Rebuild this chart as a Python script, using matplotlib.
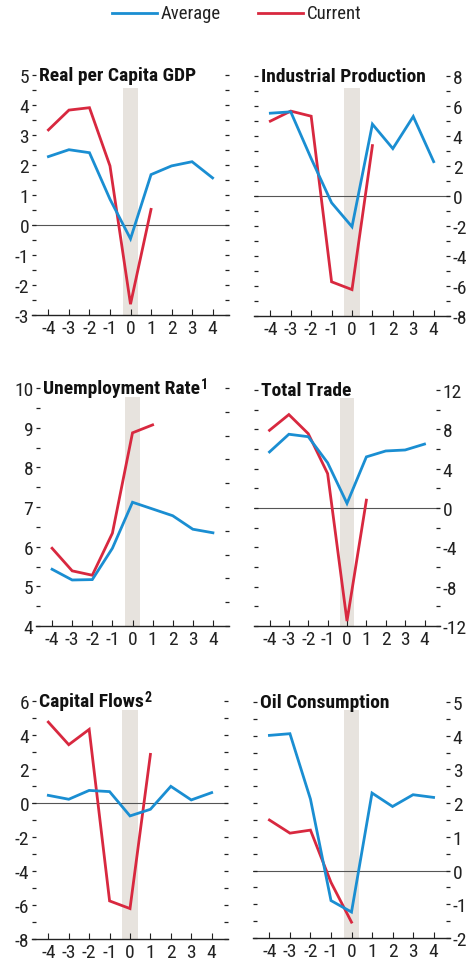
import numpy as np
import matplotlib
matplotlib.use("Agg")
import matplotlib.pyplot as plt
from matplotlib import font_manager as fm

installed = {f.name for f in fm.fontManager.ttflist}
wanted = ['Roboto Condensed', 'Archivo Narrow', 'PT Sans Narrow', 'Liberation Sans Narrow', 'DejaVu Sans']
fams = [f for f in wanted if f in installed] + ['DejaVu Sans']
plt.rcParams['font.family'] = fams
plt.rcParams['axes.unicode_minus'] = False

BLUE = '#1a8ed2'
RED = '#d8283f'
BAND = '#e7e3de'

years = [-4, -3, -2, -1, 0, 1, 2, 3, 4]
years_cur = [-4, -3, -2, -1, 0, 1]

# Real per Capita GDP
gdp_avg = [2.28, 2.51, 2.41, 0.86, -0.46, 1.68, 1.97, 2.11, 1.57]
gdp_cur = [3.17, 3.83, 3.91, 1.97, -2.64, 0.52]

# Industrial Production
ip_avg = [5.52, 5.61, 2.5, -0.45, -2.05, 4.79, 3.16, 5.3, 2.29]
ip_cur = [4.99, 5.66, 5.32, -5.72, -6.24, 3.36]

# Unemployment Rate
unemp_avg = [5.43, 5.16, 5.17, 5.96, 7.12, 6.95, 6.78, 6.44, 6.35]
unemp_cur = [5.96, 5.39, 5.28, 6.34, 8.87, 9.07]

# Total Trade
trade_avg = [5.7, 7.5, 7.25, 4.6, 0.47, 5.2, 5.8, 5.9, 6.5]
trade_cur = [7.9, 9.5, 7.56, 3.5, -11.5, 0.8]

# Capital Flows
cap_avg = [0.45, 0.22, 0.74, 0.67, -0.76, -0.37, 0.98, 0.18, 0.61]
cap_cur = [4.76, 3.43, 4.33, -5.76, -6.21, 2.86]

# Oil Consumption (current series stops at year 0)
oil_avg = [4.01, 4.06, 2.12, -0.89, -1.23, 2.3, 1.9, 2.25, 2.17]
oil_cur = [1.5, 1.11, 1.2, -0.35, -1.53]

W, H = 471, 962
fig = plt.figure(figsize=(W / 100, H / 100), dpi=100)
renderer = fig.canvas.get_renderer()


def make_ax(left, right, top, bottom):
    return fig.add_axes([left / W, 1 - bottom / H, (right - left) / W, (bottom - top) / H])


def panel(box, title, avg, cur, ylim, ticks, labels, side, band_top=0.955,
          right_ticks=None, note=None):
    ax = make_ax(*box)
    ax.set_xlim(-4.8, 4.8)
    ax.set_ylim(*ylim)
    ax.axvspan(-0.37, 0.37, ymin=0, ymax=band_top, color=BAND, lw=0, zorder=0)
    ax.axhline(0, color='#555555', lw=0.8, zorder=1)
    ax.plot(years, avg, color=BLUE, lw=2, zorder=3, solid_joinstyle='miter')
    ax.plot(years_cur[:len(cur)], cur, color=RED, lw=2, zorder=2, solid_joinstyle='miter')

    for s in ['top', 'left', 'right']:
        ax.spines[s].set_visible(False)
    ax.spines['bottom'].set_linewidth(1.0)
    ax.spines['bottom'].set_color('#222222')

    ax.set_xticks(years)
    ax.set_xticklabels([str(y) for y in years])
    ax.tick_params(axis='x', direction='in', length=4, width=0.8, pad=3,
                   labelsize=14, color='#222222', labelcolor='#222222')

    ax.set_yticks(ticks)
    ax.set_yticklabels([str(int(t)) if t in labels else '' for t in ticks])
    ax.tick_params(axis='y', direction='in', length=3, width=0.9, labelsize=14,
                   color='#222222', labelcolor='#222222', pad=2,
                   left=True, right=True,
                   labelleft=(side == 'left'), labelright=(side == 'right'))
    if right_ticks is not None:
        ax.tick_params(axis='y', right=False)
        tw = ax.twinx()
        tw.set_ylim(0, right_ticks)
        tw.set_yticks(np.arange(0, right_ticks + 1))
        tw.set_yticklabels([])
        tw.tick_params(axis='y', direction='in', length=3, width=0.9, color='#222222')
        for s in tw.spines.values():
            s.set_visible(False)

    t = ax.text(0.035, 1.0, title, transform=ax.transAxes, ha='left', va='center',
                fontsize=14, fontweight='bold', color='#111111')
    if note is not None:
        bb = t.get_window_extent(renderer)
        fig.text((bb.x1 + 1) / W, (bb.y1 + 2) / H, note, ha='left', va='top',
                 fontsize=10, fontweight='bold', color='#111111')
    return ax


panel((32, 229, 76, 316), 'Real per Capita GDP', gdp_avg, gdp_cur, (-3, 5),
      np.arange(-3, 5.01, 0.5), list(range(-3, 6)), 'left', band_top=0.946)
panel((254, 450, 77, 317), 'Industrial Production', ip_avg, ip_cur, (-8, 8),
      np.arange(-8, 8.01, 1), list(range(-8, 9, 2)), 'right', band_top=0.95)
panel((36, 229, 389, 627), 'Unemployment Rate', unemp_avg, unemp_cur, (4, 10),
      np.arange(4, 10.01, 0.5), list(range(4, 11)), 'left', band_top=0.962,
      right_ticks=10, note='1')
panel((254, 440, 391, 627), 'Total Trade', trade_avg, trade_cur, (-12, 12),
      np.arange(-12, 12.01, 2), list(range(-12, 13, 4)), 'right', band_top=0.966)
panel((32, 228, 702, 940), 'Capital Flows', cap_avg, cap_cur, (-8, 6),
      np.arange(-8, 6.01, 1), list(range(-8, 7, 2)), 'left', band_top=0.962, note='2')
panel((253, 450, 703, 939), 'Oil Consumption', oil_avg, oil_cur, (-2, 5),
      np.arange(-2, 5.01, 0.5), list(range(-2, 6)), 'right', band_top=0.966)

# legend at top
fig.add_artist(plt.Line2D([112 / W, 157 / W], [1 - 14 / H, 1 - 14 / H], color=BLUE, lw=2))
fig.text(161 / W, 1 - 14 / H, 'Average', ha='left', va='center', fontsize=13.5, color='#222222')
fig.add_artist(plt.Line2D([258 / W, 303 / W], [1 - 14 / H, 1 - 14 / H], color=RED, lw=2))
fig.text(307 / W, 1 - 14 / H, 'Current', ha='left', va='center', fontsize=13.5, color='#222222')

fig.savefig('out.png', dpi=100)
